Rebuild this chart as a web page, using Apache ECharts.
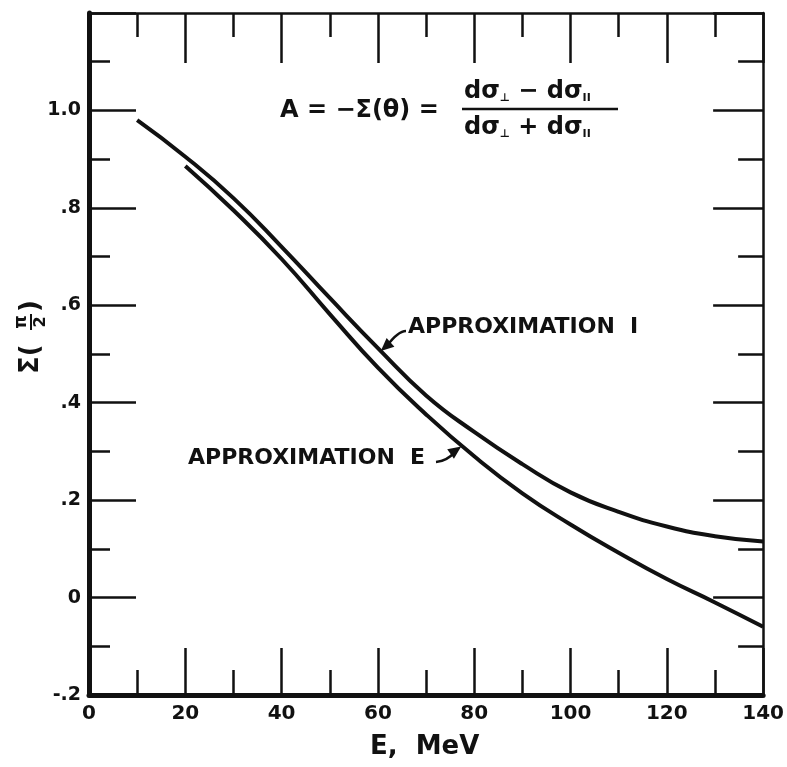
<!DOCTYPE html>
<html>
<head>
<meta charset="utf-8">
<script src="https://cdn.jsdelivr.net/npm/echarts@6/dist/echarts.min.js"></script>
<style>
  html, body { margin: 0; padding: 0; background: #fff; }
  #main { width: 787px; height: 767px; }
</style>
</head>
<body>
<div id="main"></div>
<script>
// values, E in MeV
var energyI = [10, 20, 30, 40, 50, 60, 70, 80, 90, 100, 110, 120, 130, 140];
var approxI = [0.98, 0.905, 0.82, 0.72, 0.615, 0.512, 0.415, 0.34, 0.274, 0.216, 0.176, 0.146, 0.126, 0.115];
var energyE = [20, 30, 40, 50, 60, 70, 80, 90, 100, 110, 120, 130, 140];
var approxE = [0.886, 0.795, 0.695, 0.582, 0.472, 0.376, 0.29, 0.214, 0.15, 0.092, 0.038, -0.01, -0.06];
var xTicks = [0, 20, 40, 60, 80, 100, 120, 140];

var FONT = '"DejaVu Sans", sans-serif';

function pairs(xs, ys) {
  return xs.map(function (x, i) { return [x, ys[i]]; });
}

function yLabel(v) {
  var s = (Math.round(v * 10) / 10).toFixed(1);
  if (s === '0.0') return '0';
  if (s === '1.2') return '';
  return s.replace('0.', '.');
}

var myChart = echarts.init(document.getElementById('main'));

var tickStyle = { color: '#111', width: 2.5 };

option = {
  backgroundColor: '#fff',
  animation: false,
  grid: { left: 89, right: 19, top: 13, bottom: 72 },
  xAxis: [
    {
      type: 'value', min: 0, max: 140, interval: 20, position: 'bottom',
      axisLine: { onZero: false, lineStyle: { color: '#111', width: 5 } },
      axisTick: { inside: true, length: 47, lineStyle: tickStyle },
      minorTick: { show: true, splitNumber: 2, length: 25, lineStyle: tickStyle },
      splitLine: { show: false },
      axisLabel: {
        margin: 9, color: '#111', fontFamily: FONT, fontSize: 20, fontWeight: 'bold',
        formatter: function (v) { return xTicks.indexOf(v) >= 0 ? String(v) : ''; }
      }
    },
    {
      type: 'value', min: 0, max: 140, interval: 20, position: 'top',
      axisLine: { onZero: false, lineStyle: { color: '#111', width: 2.5 } },
      axisTick: { inside: true, length: 50, lineStyle: tickStyle },
      minorTick: { show: true, splitNumber: 2, length: 24, lineStyle: tickStyle },
      splitLine: { show: false },
      axisLabel: { show: false }
    }
  ],
  yAxis: [
    {
      type: 'value', min: -0.2, max: 1.2, interval: 0.2, position: 'left',
      axisLine: { onZero: false, lineStyle: { color: '#111', width: 5 } },
      axisTick: { inside: true, length: 47, lineStyle: tickStyle },
      minorTick: { show: true, splitNumber: 2, length: 21, lineStyle: tickStyle },
      splitLine: { show: false },
      axisLabel: {
        margin: 8, color: '#111', fontFamily: FONT, fontSize: 19, fontWeight: 'bold',
        formatter: yLabel
      }
    },
    {
      type: 'value', min: -0.2, max: 1.2, interval: 0.2, position: 'right',
      axisLine: { onZero: false, lineStyle: { color: '#111', width: 2.5 } },
      axisTick: { inside: true, length: 50, lineStyle: tickStyle },
      minorTick: { show: true, splitNumber: 2, length: 25, lineStyle: tickStyle },
      splitLine: { show: false },
      axisLabel: { show: false }
    }
  ],
  series: [
    {
      name: 'APPROXIMATION I', type: 'line', smooth: true, showSymbol: false,
      lineStyle: { color: '#111', width: 4 },
      data: pairs(energyI, approxI)
    },
    {
      name: 'APPROXIMATION E', type: 'line', smooth: true, showSymbol: false,
      lineStyle: { color: '#111', width: 4 },
      data: pairs(energyE, approxE)
    }
  ]
};
myChart.setOption(option);

// annotations: arrow tips sit on the curves
var tipI = myChart.convertToPixel({ gridIndex: 0 }, [60.6, 0.506]);
var tipE = myChart.convertToPixel({ gridIndex: 0 }, [77.3, 0.31]);

function arrowHead(tip, from, size) {
  var dx = tip[0] - from[0], dy = tip[1] - from[1];
  var len = Math.sqrt(dx * dx + dy * dy);
  var ux = dx / len, uy = dy / len;
  var bx = tip[0] - ux * size, by = tip[1] - uy * size;
  var w = size * 0.45;
  return [tip, [bx - uy * w, by + ux * w], [bx + uy * w, by - ux * w]];
}

var txt = { fill: '#111', fontFamily: FONT, fontWeight: 'bold' };
var fracRich = {
  a: { fontSize: 24, fontFamily: FONT, fontWeight: 'bold', fill: '#111' },
  s: { fontSize: 11, fontFamily: FONT, fontWeight: 'bold', fill: '#111', verticalAlign: 'bottom' }
};

myChart.setOption({
  graphic: [
    // formula
    { type: 'text', left: 280, top: 99, style: Object.assign({ text: 'A = −Σ(θ) =', fontSize: 24 }, txt) },
    {
      type: 'text', left: 464, top: 80,
      style: Object.assign({ text: '{a|dσ}{s|⊥}{a| − dσ}{s|II}', rich: fracRich }, txt)
    },
    { type: 'line', shape: { x1: 462, y1: 109, x2: 618, y2: 109 }, style: { stroke: '#111', lineWidth: 2.5 } },
    {
      type: 'text', left: 464, top: 116,
      style: Object.assign({ text: '{a|dσ}{s|⊥}{a| + dσ}{s|II}', rich: fracRich }, txt)
    },
    // curve labels
    { type: 'text', left: 408, top: 316, style: Object.assign({ text: 'APPROXIMATION  I', fontSize: 22 }, txt) },
    { type: 'text', left: 188, top: 447, style: Object.assign({ text: 'APPROXIMATION  E', fontSize: 22 }, txt) },
    {
      type: 'bezierCurve',
      shape: { x1: 406, y1: 331, cpx1: 398, cpy1: 331, x2: tipI[0] + 6, y2: tipI[1] - 5 },
      style: { stroke: '#111', lineWidth: 2.5, fill: null }
    },
    { type: 'polygon', shape: { points: arrowHead(tipI, [tipI[0] + 9, tipI[1] - 8], 13) }, style: { fill: '#111' } },
    {
      type: 'bezierCurve',
      shape: { x1: 436, y1: 462, cpx1: 447, cpy1: 461, x2: tipE[0] - 6, y2: tipE[1] + 5 },
      style: { stroke: '#111', lineWidth: 2.5, fill: null }
    },
    { type: 'polygon', shape: { points: arrowHead(tipE, [tipE[0] - 10, tipE[1] + 7], 13) }, style: { fill: '#111' } },
    // axis names
    { type: 'text', left: 370, top: 734, style: Object.assign({ text: 'E,  MeV', fontSize: 26 }, txt) },
    {
      type: 'group', x: 31, y: 330, rotation: Math.PI / 2,
      children: [
        { type: 'text', x: -44, y: 0, style: Object.assign({ text: 'Σ(', fontSize: 26, verticalAlign: 'middle', align: 'left' }, txt) },
        { type: 'text', x: 8, y: -9, style: Object.assign({ text: 'π', fontSize: 17, verticalAlign: 'middle', align: 'center' }, txt) },
        { type: 'line', shape: { x1: 0, y1: 0, x2: 16, y2: 0 }, style: { stroke: '#111', lineWidth: 2 } },
        { type: 'text', x: 8, y: 10, style: Object.assign({ text: '2', fontSize: 16, verticalAlign: 'middle', align: 'center' }, txt) },
        { type: 'text', x: 18, y: 0, style: Object.assign({ text: ')', fontSize: 26, verticalAlign: 'middle', align: 'left' }, txt) }
      ]
    }
  ]
});
</script>
</body>
</html>
